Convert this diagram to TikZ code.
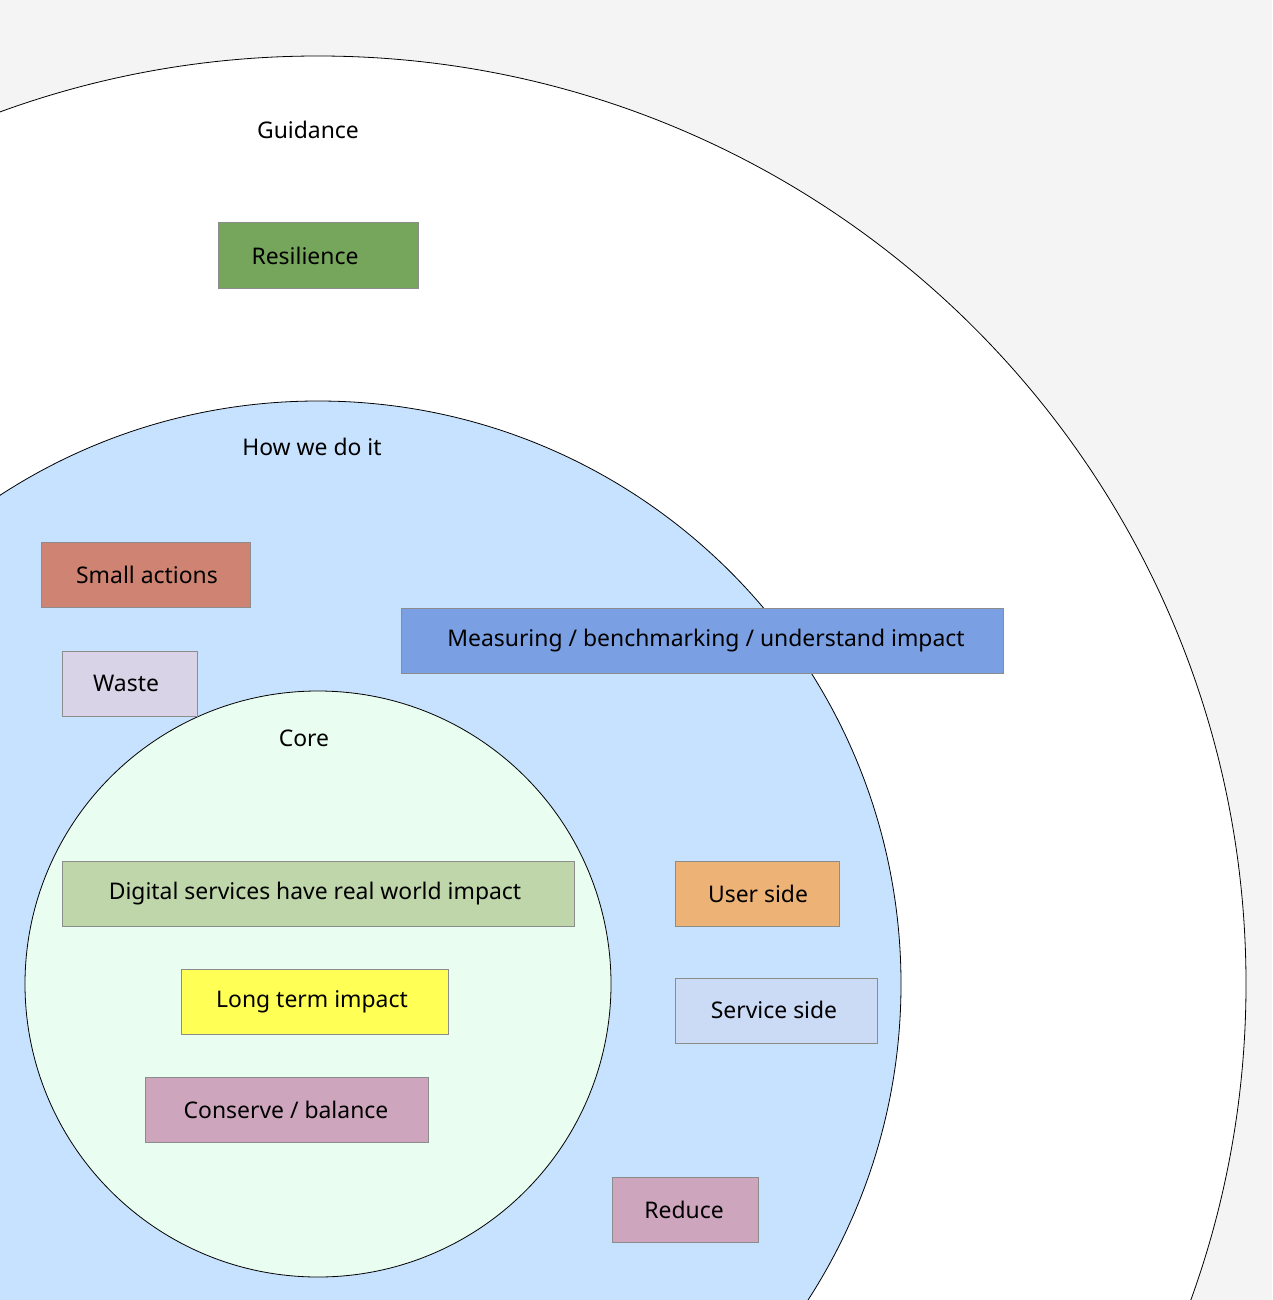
\documentclass[tikz,border=0pt]{standalone}
\usepackage{fontspec}
\setmainfont{Noto Sans}
\definecolor{bg}{HTML}{F4F4F4}
\definecolor{howc}{HTML}{C7E2FE}
\definecolor{corec}{HTML}{E9FDF1}
\definecolor{cRes}{HTML}{76A65B}
\definecolor{cSmall}{HTML}{CF8372}
\definecolor{cWaste}{HTML}{D9D3E8}
\definecolor{cMeas}{HTML}{7A9FE2}
\definecolor{cDig}{HTML}{BED6AA}
\definecolor{cLong}{HTML}{FFFF55}
\definecolor{cCons}{HTML}{CDA6BD}
\definecolor{cUser}{HTML}{EDB275}
\definecolor{cServ}{HTML}{CBDAF5}
\begin{document}
\begin{tikzpicture}[x=1bp,y=-1bp,
  box/.style={draw=black!45, line width=0.6bp, inner sep=0pt, font=\fontsize{23}{27}\selectfont},
  head/.style={font=\fontsize{23}{27}\selectfont\bfseries}]
\useasboundingbox (0,0) rectangle (1272,1300);
\fill[bg] (0,0) rectangle (1272,1300);
\begin{scope}
\clip (0,0) rectangle (1272,1300);
\draw[fill=white, line width=0.8bp] (318,984) circle[radius=928];
\draw[fill=howc, line width=0.8bp] (318,984) circle[radius=583];
\draw[fill=corec, line width=0.8bp] (318,984) circle[radius=293];
\end{scope}
\node[head] (guid) at (308,130) {Guidance};
\node[head] (how) at (312,447) {How we do it};
\node[head] (core) at (304,738) {Core};
\newcommand\bx[6]{\draw[box, fill=#2] (#3,#4) rectangle (#5,#6); \node[font=\fontsize{23}{27}\selectfont] (#1) at ({(#3+#5)/2},{(#4+#6)/2}) {};}
\draw[box, fill=cRes] (218,222) rectangle (418,288); \node[box,draw=none] (res) at (305,256) {Resilience};
\draw[box, fill=cSmall] (41,542) rectangle (250,607); \node[box,draw=none] (small) at (147,575) {Small actions};
\draw[box, fill=cWaste] (62,651) rectangle (197,716); \node[box,draw=none] (waste) at (126,683) {Waste};
\draw[box, fill=cMeas] (401,608) rectangle (1003,673); \node[box,draw=none] (meas) at (706,641) {Measuring / benchmarking / understand impact};
\draw[box, fill=cDig] (62,861) rectangle (574,926); \node[box,draw=none] (dig) at (315,894) {Digital services have real world impact};
\draw[box, fill=cLong] (181,969) rectangle (448,1034); \node[box,draw=none] (long) at (312,1002) {Long term impact};
\draw[box, fill=cCons] (145,1077) rectangle (428,1142); \node[box,draw=none] (cons) at (286,1110) {Conserve / balance};
\draw[box, fill=cUser] (675,861) rectangle (839,926); \node[box,draw=none] (user) at (758,894) {User side};
\draw[box, fill=cServ] (675,978) rectangle (877,1043); \node[box,draw=none] (serv) at (774,1010) {Service side};
\draw[box, fill=cCons] (612,1177) rectangle (758,1242); \node[box,draw=none] (red) at (684,1210) {Reduce};
\end{tikzpicture}
\end{document}
